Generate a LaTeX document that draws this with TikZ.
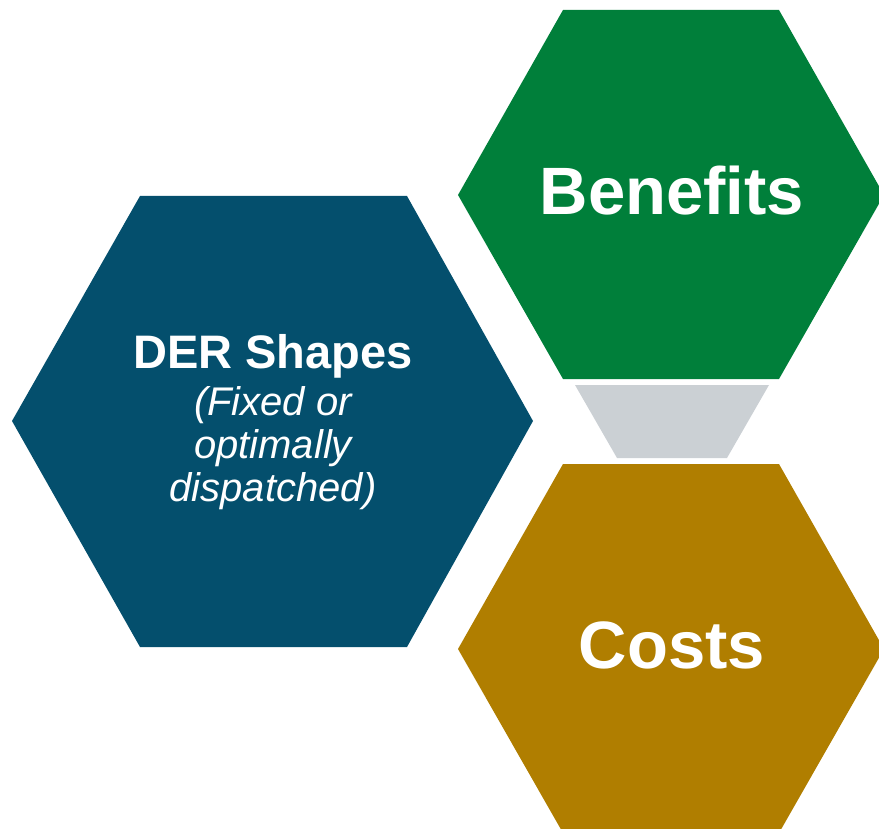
\documentclass[tikz,border=0pt]{standalone}
\usepackage{fontspec}
\setmainfont{Liberation Sans}
\definecolor{derblue}{HTML}{044F6D}
\definecolor{bengreen}{HTML}{007F3A}
\definecolor{costgold}{HTML}{B07E00}
\definecolor{linkgray}{HTML}{CBD0D4}
\begin{document}
\begin{tikzpicture}[x=1pt,y=-1pt,
  biglabel/.style={text=white,inner sep=0pt,anchor=base,font=\bfseries\fontsize{67}{70}\selectfont},
  derlabel/.style={text=white,inner sep=0pt,anchor=base,align=center,font=\fontsize{40}{43}\selectfont}]
\useasboundingbox (0,0) rectangle (879,829);
\begin{scope}
\clip (0,0) rectangle (879,829);
\fill[derblue] (140,196) -- (407,196) -- (533,421) -- (407,647) -- (140,647) -- (12,421) -- cycle;
\fill[bengreen] (563,10) -- (779,10) -- (884,195) -- (779,379) -- (563,379) -- (458,195) -- cycle;
\fill[costgold] (563,464) -- (779,464) -- (884,649) -- (779,833) -- (563,833) -- (458,649) -- cycle;
\fill[linkgray] (575,385) -- (769,385) -- (727,458) -- (617,458) -- cycle;
\end{scope}
\node[biglabel] (benefits) at (672,215) {Benefits};
\node[biglabel] (costs) at (672,668) {Costs};
\node[derlabel] (der) at (273,501) {{\bfseries\fontsize{47}{47}\selectfont DER Shapes}\\[4pt]\itshape (Fixed or\\\itshape optimally\\\itshape dispatched)};
\end{tikzpicture}
\end{document}
